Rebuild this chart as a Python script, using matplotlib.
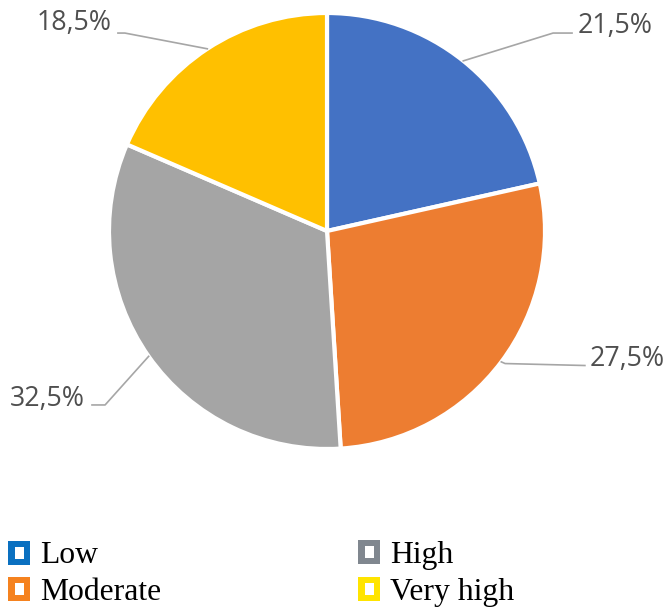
import numpy as np
import matplotlib
matplotlib.use("Agg")
import matplotlib.pyplot as plt
from matplotlib.patches import Rectangle

# Risk level shares (%)
categories = ["Low", "Moderate", "High", "Very high"]
shares = [21.5, 27.5, 32.5, 18.5]
value_labels = ["21,5%", "27,5%", "32,5%", "18,5%"]

slice_colors = ["#4472C4", "#ED7D31", "#A5A5A5", "#FFC000"]
legend_colors = ["#0A70C0", "#F5821F", "#80878F", "#FFE400"]

W, H = 670, 608
fig = plt.figure(figsize=(W / 100, H / 100), dpi=100)

# pie axes: center (327, 231) px, radius 218 px
cx, cy, r = 327, 231, 218
ax = fig.add_axes([(cx - r) / W, (H - cy - r) / H, 2 * r / W, 2 * r / H])
wedges, _ = ax.pie(shares, colors=slice_colors, startangle=90,
                   counterclock=False, radius=1.0,
                   wedgeprops=dict(edgecolor="white", linewidth=3))
ax.set_xlim(-1, 1)
ax.set_ylim(-1, 1)
ax.set_aspect("equal")
ax.axis("off")

# leader-line elbows/ends and text anchors (data units, pie radius = 1)
label_layout = [
    dict(elbow=(1.037, 0.908), end=(1.124, 0.908), text=(1.151, 0.940), ha="left"),
    dict(elbow=(0.817, -0.608), end=(1.183, -0.617), text=(1.206, -0.587), ha="left"),
    dict(elbow=(-1.018, -0.798), end=(-1.078, -0.798), text=(-1.110, -0.771), ha="right"),
    dict(elbow=(-0.927, 0.908), end=(-0.959, 0.908), text=(-0.986, 0.954), ha="right"),
]

for w, lab, lay in zip(wedges, value_labels, label_layout):
    mid = np.deg2rad((w.theta1 + w.theta2) / 2)
    sx, sy = np.cos(mid), np.sin(mid)
    xs = [sx, lay["elbow"][0], lay["end"][0]]
    ys = [sy, lay["elbow"][1], lay["end"][1]]
    ax.plot(xs, ys, color="#A6A6A6", lw=1.2, clip_on=False, zorder=1)
    ax.text(lay["text"][0], lay["text"][1], lab, ha=lay["ha"], va="center",
            fontsize=19.3, color="#4F4F4F", family="Open Sans", clip_on=False)

# legend (two columns, hollow square markers)
def fx(x):
    return x / W

def fy(y):
    return 1 - y / H

legend_pos = [(8, 541, 40, 563), (8, 577, 40, 600), (358, 540, 390, 563), (358, 577, 390, 600)]
for name, col, (mx, my, tx, ty) in zip(categories, legend_colors, legend_pos):
    ow, oh = 22, 24
    fig.patches.append(Rectangle((fx(mx), fy(my + oh)), ow / W, oh / H,
                                 transform=fig.transFigure, facecolor=col,
                                 edgecolor="none"))
    fig.patches.append(Rectangle((fx(mx + 7), fy(my + oh - 6)), 9 / W, 12 / H,
                                 transform=fig.transFigure, facecolor="white",
                                 edgecolor="none"))
    fig.text(fx(tx), fy(ty), name, ha="left", va="baseline", fontsize=22.8,
             family="Liberation Serif", color="black")

fig.savefig("out.png", dpi=100)
